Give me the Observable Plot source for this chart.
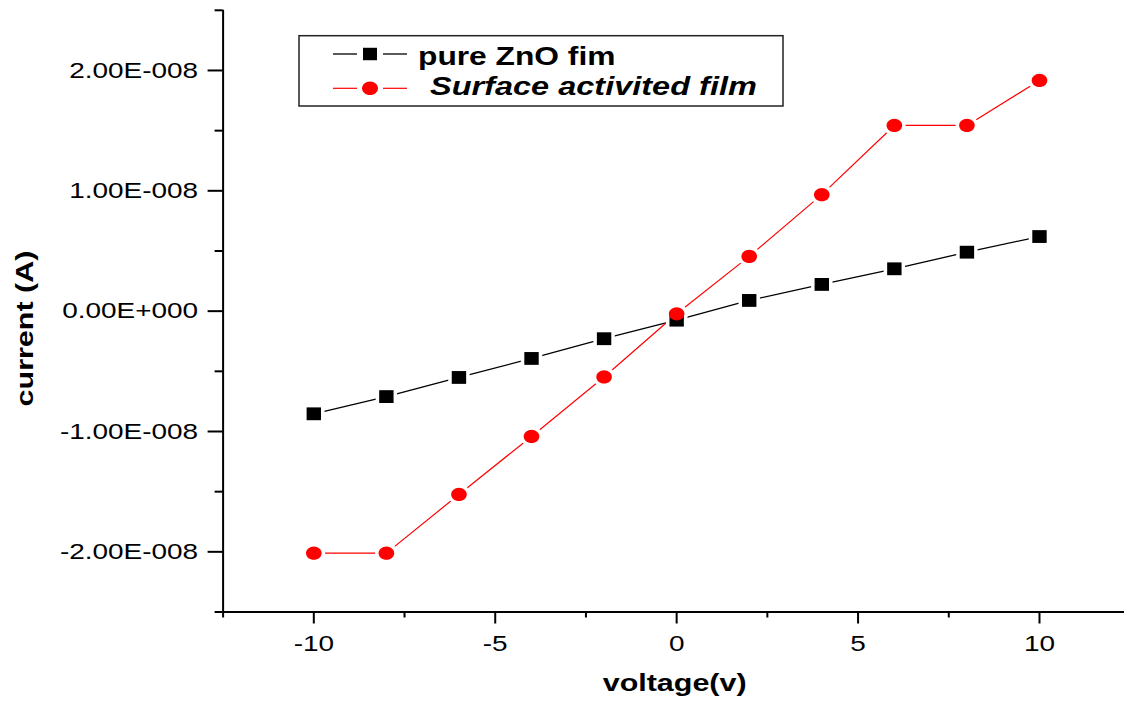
<!DOCTYPE html>
<html><head><meta charset="utf-8">
<script src="https://cdn.jsdelivr.net/npm/d3@7"></script>
<script src="https://cdn.jsdelivr.net/npm/@observablehq/plot@0.6"></script>
<style>html,body{margin:0;padding:0;background:#fff;} #chart{position:relative;width:1124px;height:704px;}</style>
</head><body><div id="chart"></div>
<script>
// ---- data ----
const voltage = [-10, -8, -6, -4, -2, 0, 2, 4, 6, 8, 10];
const pureZnO = [-0.853e-8, -0.71e-8, -0.551e-8, -0.393e-8, -0.229e-8, -0.075e-8, 0.089e-8, 0.222e-8, 0.352e-8, 0.49e-8, 0.62e-8];
const surfaceActivated = [-2.011e-8, -2.011e-8, -1.523e-8, -1.041e-8, -0.547e-8, -0.022e-8, 0.455e-8, 0.968e-8, 1.543e-8, 1.543e-8, 1.917e-8];
const seriesNames = ["pure ZnO fim", "Surface activited film"];
const xMajor = [-10, -5, 0, 5, 10];
const xMinor = [-12.5, -7.5, -2.5, 2.5, 7.5, 12.5];
const yMajor = [-2e-8, -1e-8, 0, 1e-8, 2e-8];
const yLabels = ["-2.00E-008", "-1.00E-008", "0.00E+000", "1.00E-008", "2.00E-008"];
const yMinor = [-2.5e-8, -1.5e-8, -0.5e-8, 0.5e-8, 1.5e-8, 2.5e-8];
const xDomain = [-12.5, 12.5];
const yDomain = [-2.5e-8, 2.5e-8];
const xTitle = "voltage(v)";
const yTitle = "current (A)";

// ---- build ----
const pureData = voltage.map((v, i) => ({v, i: pureZnO[i]}));
const surfData = voltage.map((v, i) => ({v, i: surfaceActivated[i]}));
const labelMap = new Map(yMajor.map((v, i) => [v, yLabels[i]]));

const squareSym = {draw(ctx, size) {
  const r = Math.sqrt(size / Math.PI), h = r * 0.89;
  ctx.moveTo(-r, -h); ctx.lineTo(r, -h); ctx.lineTo(r, h); ctx.lineTo(-r, h); ctx.closePath();
}};
const ellipseSym = {draw(ctx, size) {
  const rx = Math.sqrt(size / Math.PI), ry = rx * 0.85, k = 0.5523;
  const kx = rx * k, ky = ry * k;
  ctx.moveTo(rx, 0);
  ctx.bezierCurveTo(rx, ky, kx, ry, 0, ry);
  ctx.bezierCurveTo(-kx, ry, -rx, ky, -rx, 0);
  ctx.bezierCurveTo(-rx, -ky, -kx, -ry, 0, -ry);
  ctx.bezierCurveTo(kx, -ry, rx, -ky, rx, 0);
  ctx.closePath();
}};

const chart = Plot.plot({
  width: 1124, height: 704,
  marginLeft: 222.6, marginRight: -5.7, marginTop: 9.8, marginBottom: 92.5,
  x: {domain: xDomain},
  y: {domain: yDomain},
  style: {fontFamily: "'Liberation Sans', Arial, sans-serif", background: "white", color: "black"},
  marks: [
    Plot.axisX({ticks: xMinor, tickSize: 6, tickFormat: () => "", strokeWidth: 2, label: null}),
    Plot.axisX({ticks: xMajor, tickSize: 12, tickPadding: 11, fontSize: 22, strokeWidth: 2, label: null, tickFormat: d => String(d)}),
    Plot.axisY({ticks: yMinor, tickSize: 8, tickFormat: () => "", strokeWidth: 2, label: null}),
    Plot.axisY({ticks: yMajor, tickSize: 15, tickPadding: 10, fontSize: 22, strokeWidth: 2, label: null, tickFormat: d => labelMap.get(d)}),
    Plot.ruleX([xDomain[0]], {strokeWidth: 2}),
    Plot.ruleY([yDomain[0]], {strokeWidth: 2}),
    Plot.line(pureData, {x: "v", y: "i", stroke: "black", strokeWidth: 1.3}),
    Plot.line(surfData, {x: "v", y: "i", stroke: "#ff0000", strokeWidth: 1.2}),
    Plot.dot(pureData, {x: "v", y: "i", symbol: squareSym, r: 7.2, fill: "white", stroke: "white", strokeWidth: 7}),
    Plot.dot(surfData, {x: "v", y: "i", symbol: ellipseSym, r: 7.8, fill: "white", stroke: "white", strokeWidth: 7}),
    Plot.dot(pureData, {x: "v", y: "i", symbol: squareSym, r: 7.2, fill: "black"}),
    Plot.dot(surfData, {x: "v", y: "i", symbol: ellipseSym, r: 7.8, fill: "#ff0000"}),
    Plot.text([xTitle], {text: d => d, frameAnchor: "bottom", textAnchor: "middle", lineAnchor: "middle", dx: -2, dy: 71.8, fontSize: 24, fontWeight: "bold", ariaLabel: "xtitle"}),
    Plot.text([yTitle], {text: d => d, frameAnchor: "left", textAnchor: "middle", lineAnchor: "middle", dx: -197.6, dy: 17.4, rotate: -90, fontSize: 24, fontWeight: "bold", ariaLabel: "ytitle"})
  ]
});
document.getElementById("chart").appendChild(chart);

// horizontal stretch of the original artwork's text
chart.querySelectorAll("text").forEach(t => {
  const g = t.closest("g[aria-label]");
  const lab = g ? g.getAttribute("aria-label") : "";
  let s = "scale(1.27,1)";
  if (lab === "ytitle") s = "scale(1.14,1.32)";
  else if (lab === "xtitle") s = "scale(1.34,1)";
  const tr = t.getAttribute("transform") || "";
  const x = +t.getAttribute("x") || 0, y = +t.getAttribute("y") || 0;
  t.setAttribute("transform", `${tr} translate(${x},${y}) ${s} translate(${-x},${-y})`);
});

// ---- legend ----
const svg = d3.select(chart);
const lg = svg.append("g").attr("font-family", "'Liberation Sans', Arial, sans-serif").attr("text-anchor", "start");
lg.append("rect").attr("x", 299).attr("y", 35.7).attr("width", 484).attr("height", 70.3)
  .attr("fill", "white").attr("stroke", "#222").attr("stroke-width", 1.5);
const rows = [
  {name: seriesNames[0], color: "black", sym: squareSym, r: 7, y: 54, ty: 64.5, tx: 418, italic: false, sx: 1.27, sw: 1.3},
  {name: seriesNames[1], color: "#ff0000", sym: ellipseSym, r: 8, y: 88.3, ty: 95, tx: 430, italic: true, sx: 1.30, sw: 1.2}
];
rows.forEach(r => {
  lg.append("line").attr("x1", 333).attr("x2", 357).attr("y1", r.y).attr("y2", r.y).attr("stroke", r.color).attr("stroke-width", r.sw);
  lg.append("line").attr("x1", 383).attr("x2", 407).attr("y1", r.y).attr("y2", r.y).attr("stroke", r.color).attr("stroke-width", r.sw);
  lg.append("path").attr("d", d3.symbol(r.sym, Math.PI * r.r * r.r)()).attr("transform", `translate(370,${r.y})`).attr("fill", r.color);
  lg.append("text").attr("transform", `translate(${r.tx},${r.ty}) scale(${r.sx},1)`)
    .attr("text-anchor", "start")
    .attr("font-size", 25).attr("font-weight", "bold").attr("font-style", r.italic ? "italic" : "normal")
    .attr("fill", "black").text(r.name);
});
</script>
</body></html>
